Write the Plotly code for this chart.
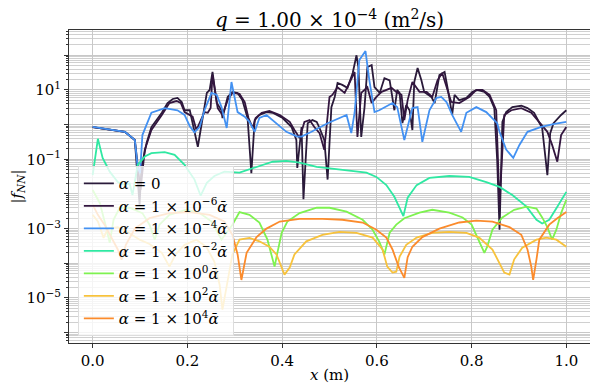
import plotly.graph_objects as go

# |f_NN| along x for several regularisation weights alpha
legend_names = [
    "<i>α</i> = 0",
    "<i>α</i> = 1 × 10<sup>−6</sup><i>ᾱ</i>",
    "<i>α</i> = 1 × 10<sup>−4</sup><i>ᾱ</i>",
    "<i>α</i> = 1 × 10<sup>−2</sup><i>ᾱ</i>",
    "<i>α</i> = 1 × 10<sup>0</sup><i>ᾱ</i>",
    "<i>α</i> = 1 × 10<sup>2</sup><i>ᾱ</i>",
    "<i>α</i> = 1 × 10<sup>4</sup><i>ᾱ</i>",
]
colors = ["#2a1a3a", "#33163f", "#4391f2", "#2fe8a2", "#7ef250", "#f7c23c", "#fb8b2c"]

x_a0 = [0.000, 0.068, 0.089, 0.099, 0.103, 0.114, 0.124, 0.146, 0.158, 0.169, 0.179, 0.188, 0.194, 0.205,
        0.222, 0.232, 0.241, 0.247, 0.253, 0.262, 0.272, 0.274, 0.285, 0.295, 0.306, 0.316, 0.327, 0.335,
        0.342, 0.352, 0.367, 0.380, 0.401, 0.420, 0.430, 0.432, 0.441, 0.445, 0.454, 0.464, 0.473, 0.479,
        0.489, 0.496, 0.504, 0.511, 0.517, 0.527, 0.538, 0.549, 0.557, 0.561, 0.567, 0.574, 0.580, 0.589,
        0.595, 0.606, 0.616, 0.627, 0.637, 0.643, 0.648, 0.654, 0.662, 0.669, 0.675, 0.679, 0.686, 0.694,
        0.700, 0.715, 0.722, 0.732, 0.743, 0.749, 0.759, 0.764, 0.774, 0.789, 0.802, 0.812, 0.827, 0.838,
        0.848, 0.854, 0.859, 0.865, 0.873, 0.886, 0.905, 0.918, 0.932, 0.949, 0.960, 0.966, 0.973, 0.989, 1.000]
y_a0 = [0.85, 0.62, 0.36, 0.0049, 0.06, 0.30, 0.85, 2.2, 4.2, 5.5, 5.9, 4.5, 2.6, 2.6,
        0.23, 1.7, 8.2, 10, 33, 4.2, 2.6, 1.55, 6.3, 8.8, 8.2, 5.1, 1.55, 0.04,
        1.35, 1.9, 2.3, 2.2, 1.55, 0.85, 0.36, 0.056, 0.85, 0.007, 1.1, 1.35, 1.2, 0.8,
        0.36, 0.026, 3.2, 6.3, 16, 14, 11.5, 31, 100, 46, 0.44, 3.2, 46, 52,
        12, 8.2, 22, 19, 2.6, 10, 8.2, 1.1, 3.7, 2.6, 0.7, 17, 43, 19,
        8.8, 6.3, 4.2, 27, 33, 12, 1.9, 7.2, 5.1, 5.9, 8.8, 10, 8.8, 6.3,
        3.0, 0.095, 0.00093, 1.2, 2.3, 3.2, 3.5, 3.0, 2.2, 0.8, 0.035, 0.57, 1.1, 1.9, 2.6]

x_a1 = [0.000, 0.068, 0.089, 0.101, 0.110, 0.124, 0.146, 0.162, 0.177, 0.186, 0.194, 0.211, 0.219, 0.236,
        0.243, 0.249, 0.253, 0.264, 0.274, 0.285, 0.295, 0.310, 0.321, 0.329, 0.338, 0.344, 0.357, 0.373,
        0.395, 0.416, 0.426, 0.437, 0.447, 0.458, 0.468, 0.479, 0.489, 0.500, 0.506, 0.517, 0.532, 0.542,
        0.553, 0.559, 0.567, 0.580, 0.589, 0.599, 0.610, 0.631, 0.641, 0.652, 0.658, 0.665, 0.675, 0.690,
        0.705, 0.717, 0.728, 0.738, 0.757, 0.774, 0.795, 0.810, 0.823, 0.838, 0.852, 0.859, 0.869, 0.884,
        0.905, 0.926, 0.947, 0.960, 0.970, 0.981, 0.989, 1.000]
y_a1 = [0.85, 0.62, 0.36, 0.013, 0.19, 0.7, 1.9, 4.2, 4.8, 4.2, 2.3, 1.7, 0.7, 2.3,
        2.2, 3.0, 27, 3.0, 1.9, 5.1, 8.2, 7.7, 4.5, 1.55, 0.8, 1.55, 2.2, 2.5,
        1.9, 1.2, 0.7, 0.41, 1.2, 1.35, 0.85, 0.57, 0.19, 6.3, 7.2, 12, 8.2, 16,
        33, 0.44, 8.2, 12, 4.2, 6.3, 8.8, 11.5, 8.8, 7.2, 1.35, 5.1, 17, 8.8,
        8.8, 6.3, 19, 31, 4.5, 4.2, 6.3, 10, 10, 7.2, 2.6, 0.0049, 1.9, 2.6,
        3.0, 2.2, 1.0, 0.62, 0.26, 0.085, 0.5, 0.85]

x_a2 = [0.000, 0.068, 0.089, 0.095, 0.100, 0.105, 0.124, 0.152, 0.179, 0.194, 0.205, 0.215, 0.226, 0.236,
        0.251, 0.262, 0.272, 0.283, 0.293, 0.306, 0.321, 0.331, 0.342, 0.352, 0.367, 0.388, 0.409, 0.432,
        0.441, 0.462, 0.496, 0.536, 0.546, 0.553, 0.563, 0.576, 0.584, 0.595, 0.605, 0.633, 0.643, 0.658,
        0.675, 0.686, 0.696, 0.711, 0.726, 0.736, 0.747, 0.759, 0.778, 0.789, 0.810, 0.831, 0.854, 0.859,
        0.873, 0.888, 0.901, 0.918, 0.947, 0.975, 1.000]
y_a2 = [0.86, 0.62, 0.36, 0.06, 0.04, 0.5, 2.2, 3.0, 2.6, 1.9, 0.9, 0.6, 0.86, 2.6,
        8.2, 7.2, 3.2, 0.8, 17, 2.3, 1.7, 1.2, 0.62, 1.55, 1.9, 1.1, 0.62, 0.45,
        0.45, 0.62, 1.1, 1.9, 0.57, 2.2, 73, 133, 19.5, 2.3, 2.6, 4.2, 3.2, 0.36,
        3.0, 3.2, 0.32, 2.6, 5.9, 6.3, 4.5, 1.9, 0.62, 2.2, 3.2, 2.3, 1.1, 0.62,
        0.19, 0.11, 0.26, 0.62, 0.86, 1.05, 1.2]

x_a3 = [0.000, 0.011, 0.021, 0.036, 0.053, 0.068, 0.078, 0.084, 0.095, 0.110, 0.124, 0.152, 0.173, 0.194,
        0.215, 0.228, 0.241, 0.257, 0.278, 0.310, 0.346, 0.380, 0.409, 0.437, 0.473, 0.506, 0.549, 0.578,
        0.599, 0.620, 0.637, 0.648, 0.656, 0.665, 0.684, 0.711, 0.753, 0.795, 0.831, 0.859, 0.886, 0.916,
        0.937, 0.949, 0.964, 0.981, 1.000]
y_a3 = [0.035, 0.39, 0.11, 0.044, 0.022, 0.018, 0.02, 0.0093, 0.069, 0.12, 0.15, 0.16, 0.135, 0.069,
        0.026, 0.0089, 0.021, 0.033, 0.044, 0.041, 0.06, 0.085, 0.09, 0.08, 0.06, 0.053, 0.047, 0.041,
        0.031, 0.018, 0.0083, 0.004, 0.0023, 0.0078, 0.018, 0.029, 0.033, 0.031, 0.022, 0.016, 0.0093, 0.0043,
        0.0018, 0.0014, 0.0018, 0.0043, 0.0115]

x_a4 = [0.000, 0.015, 0.027, 0.036, 0.044, 0.057, 0.078, 0.105, 0.120, 0.131, 0.141, 0.162, 0.198, 0.226,
        0.251, 0.272, 0.295, 0.310, 0.331, 0.352, 0.369, 0.384, 0.390, 0.399, 0.411, 0.437, 0.473, 0.500,
        0.536, 0.570, 0.591, 0.605, 0.616, 0.627, 0.641, 0.658, 0.690, 0.717, 0.753, 0.781, 0.800, 0.812,
        0.827, 0.833, 0.844, 0.865, 0.890, 0.916, 0.937, 0.949, 0.960, 0.970, 0.979, 0.989, 1.000]
y_a4 = [0.013, 0.0055, 0.0013, 0.00039, 0.0018, 0.004, 0.004, 0.0028, 0.0013, 0.00048, 0.0013, 0.0025, 0.0035, 0.0028,
        0.0016, 0.00048, 0.0013, 0.003, 0.0025, 0.0015, 0.00048, 0.00008, 0.0002, 0.00076, 0.0016, 0.0028, 0.004, 0.004,
        0.0031, 0.0018, 0.00093, 0.00042, 0.00018, 0.00076, 0.0013, 0.002, 0.0029, 0.0035, 0.0029, 0.0021, 0.0013, 0.00057,
        0.0002, 0.0003, 0.00093, 0.0021, 0.0035, 0.0043, 0.0038, 0.0021, 0.0011, 0.00048, 0.00093, 0.0028, 0.0068]

x_a5 = [0.000, 0.011, 0.023, 0.032, 0.053, 0.074, 0.099, 0.120, 0.146, 0.162, 0.175, 0.194, 0.219, 0.240,
        0.257, 0.268, 0.274, 0.283, 0.295, 0.310, 0.331, 0.352, 0.373, 0.388, 0.399, 0.405, 0.416, 0.426,
        0.451, 0.485, 0.521, 0.557, 0.591, 0.612, 0.622, 0.633, 0.641, 0.648, 0.662, 0.684, 0.717, 0.753,
        0.789, 0.816, 0.844, 0.859, 0.869, 0.880, 0.890, 0.907, 0.937, 0.958, 0.979, 1.000]
y_a5 = [0.0025, 0.0016, 0.00054, 0.001, 0.0011, 0.0008, 0.00048, 0.00036, 0.0002, 0.00008, 0.00018, 0.00034, 0.00048, 0.0003,
        0.00011, 0.000024, 0.0000046, 0.000024, 0.00018, 0.00048, 0.00054, 0.00043, 0.0003, 0.00018, 0.00008, 0.000047, 0.000075, 0.00018,
        0.00043, 0.00066, 0.0008, 0.00075, 0.00055, 0.00025, 0.00008, 0.000054, 0.000057, 0.000155, 0.00034, 0.00055, 0.00075, 0.0008,
        0.00075, 0.00055, 0.00025, 0.0001, 0.000054, 0.000047, 0.00013, 0.00028, 0.00048, 0.00055, 0.00048, 0.0003]

x_a6 = [0.000, 0.011, 0.025, 0.040, 0.053, 0.061, 0.070, 0.089, 0.120, 0.162, 0.205, 0.247, 0.278, 0.295,
        0.306, 0.314, 0.325, 0.346, 0.367, 0.395, 0.437, 0.485, 0.527, 0.570, 0.599, 0.620, 0.633, 0.646,
        0.658, 0.665, 0.675, 0.696, 0.732, 0.774, 0.810, 0.844, 0.880, 0.905, 0.918, 0.926, 0.930, 0.937,
        0.943, 0.964, 0.981, 1.000]
y_a6 = [0.0049, 0.0025, 0.0013, 0.00054, 0.00025, 0.000126, 0.00034, 0.001, 0.002, 0.0028, 0.003, 0.0025, 0.0016, 0.00066,
        0.00018, 0.000033, 0.0002, 0.00057, 0.001, 0.0016, 0.0019, 0.0019, 0.0018, 0.0015, 0.00093, 0.00055, 0.00025, 0.00008,
        0.000038, 0.00015, 0.0003, 0.00057, 0.001, 0.0015, 0.0017, 0.0016, 0.0011, 0.00066, 0.00025, 0.00008, 0.000033, 0.00013,
        0.00048, 0.0013, 0.002, 0.003]

xs = [x_a0, x_a1, x_a2, x_a3, x_a4, x_a5, x_a6]
ys = [y_a0, y_a1, y_a2, y_a3, y_a4, y_a5, y_a6]

x_ticks = [0.0, 0.2, 0.4, 0.6, 0.8, 1.0]
x_ticktext = ["0.0", "0.2", "0.4", "0.6", "0.8", "1.0"]
y_ticks = [1e-6, 1e-5, 1e-4, 1e-3, 1e-2, 1e-1, 1e0, 1e1, 1e2]
y_ticktext = ["", "10<sup>−5</sup>", "", "10<sup>−3</sup>", "", "10<sup>−1</sup>", "", "10<sup>1</sup>", ""]

font_family = "DejaVu Serif"

fig = go.Figure()
for i, (xv, yv, name, c) in enumerate(zip(xs, ys, legend_names, colors)):
    fig.add_trace(go.Scatter(x=xv, y=yv, mode="lines", name=name, legendgroup=str(i),
                             line=dict(color=c, width=1.8)))

# page body has an 8px margin, so the figure is sized to fit the 598x392 window
fig.update_layout(
    width=590, height=384,
    margin=dict(l=61, r=8, t=22, b=49),
    paper_bgcolor="white", plot_bgcolor="white",
    font=dict(family=font_family, size=15, color="black"),
    title=dict(text="<i>q</i> = 1.00 × 10<sup>−4</sup> (m<sup>2</sup>/s)",
               xref="paper", x=0.5, xanchor="center",
               yref="paper", y=1.0, yanchor="bottom", pad=dict(b=3),
               font=dict(size=20)),
    legend=dict(x=0.017, y=0.565, xanchor="left", yanchor="top",
                bgcolor="rgba(255,255,255,0.8)", bordercolor="#dddddd", borderwidth=1,
                font=dict(size=15), tracegroupgap=0),
    showlegend=True,
)

fig.update_xaxes(
    range=[-0.05, 1.05], tickvals=x_ticks, ticktext=x_ticktext, automargin=False,
    showgrid=True, gridcolor="#c8c8c8", gridwidth=1, zeroline=False,
    showline=True, linecolor="#333333", linewidth=1, mirror=True,
    ticks="outside", ticklen=4, tickcolor="#333333",
    tickfont=dict(size=15),
    title=dict(text="<i>x</i> (m)", font=dict(size=15), standoff=0),
)
fig.update_yaxes(
    type="log", range=[-6.3, 2.73], tickvals=y_ticks, ticktext=y_ticktext, automargin=False,
    showgrid=True, gridcolor="#c8c8c8", gridwidth=1, zeroline=False,
    showline=True, linecolor="#333333", linewidth=1, mirror=True,
    ticks="outside", ticklen=4, tickcolor="#333333",
    tickfont=dict(size=15),
    minor=dict(dtick="D1", showgrid=True, gridcolor="#d0d0d0", gridwidth=1,
               ticks="outside", ticklen=2, tickcolor="#333333"),
    title=dict(text="|<i>f</i><sub><i>NN</i></sub>|", font=dict(size=15), standoff=5),
)

fig.write_html("out.html")
